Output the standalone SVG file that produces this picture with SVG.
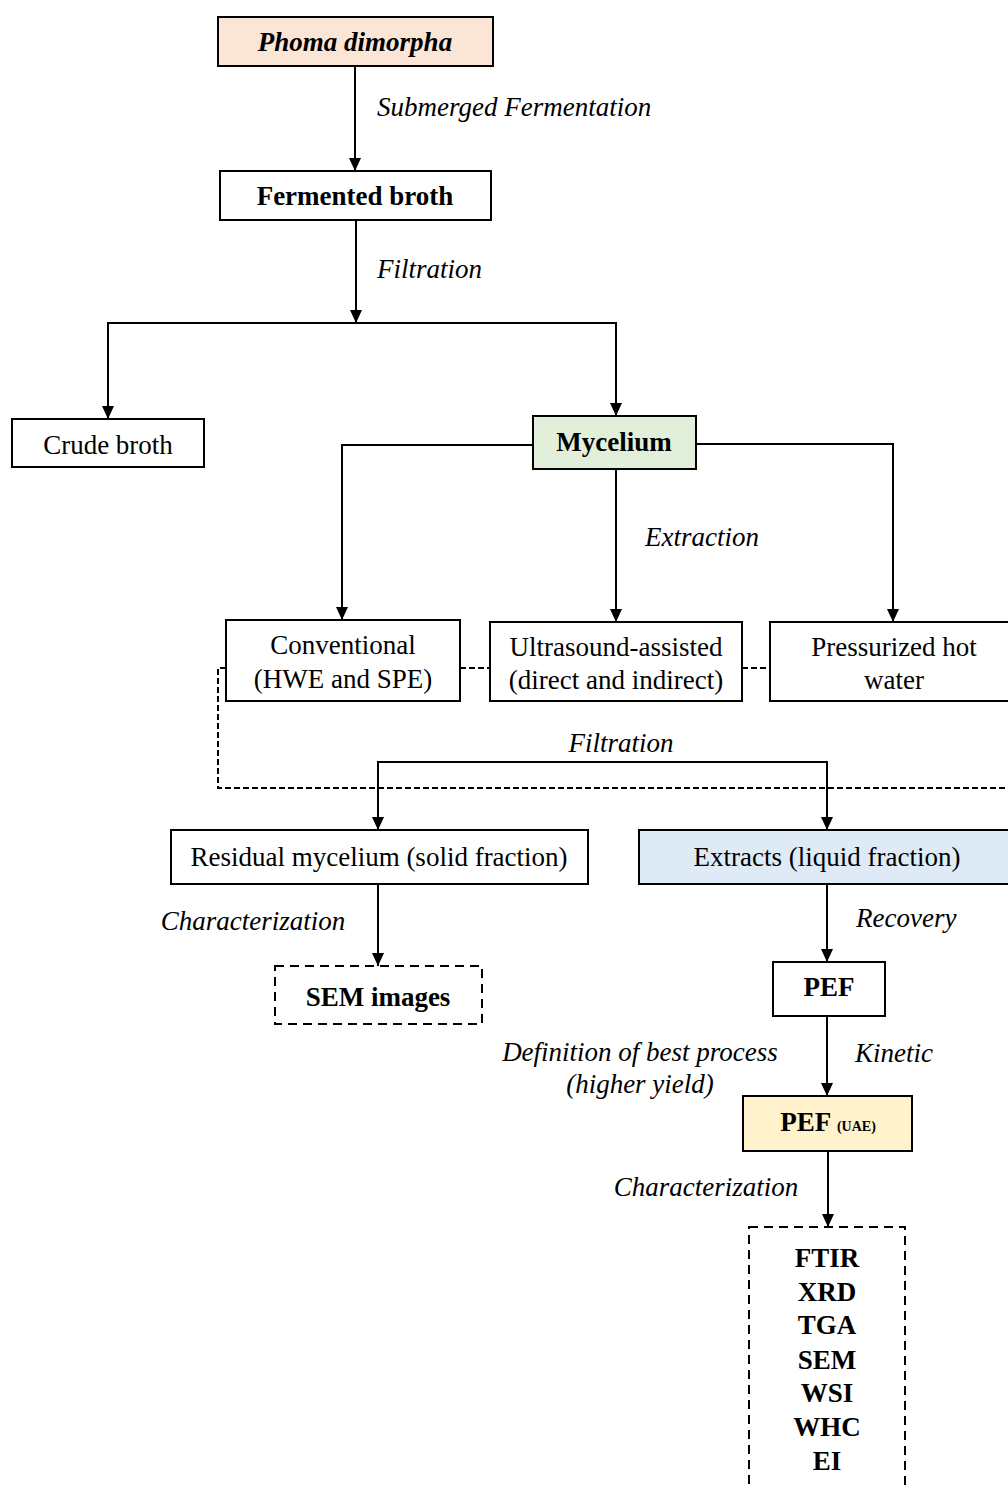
<svg xmlns="http://www.w3.org/2000/svg" width="1008" height="1486" viewBox="0 0 1008 1486">
<style>
text{font-family:"Liberation Serif","Times New Roman",serif;font-size:27px;fill:#000;text-anchor:middle}
.b{font-weight:bold}
.i{font-style:italic}
.l{text-anchor:start}
.box{stroke:#000;stroke-width:2;fill:#fff}
.dbox{stroke:#000;stroke-width:2;fill:#fff;stroke-dasharray:9 6}
.c{stroke:#000;stroke-width:2;fill:none}
.d{stroke:#000;stroke-width:2;fill:none;stroke-dasharray:6 3}
</style>
<defs>
<marker id="ah" markerUnits="userSpaceOnUse" markerWidth="14" markerHeight="12" refX="13" refY="6" orient="auto">
<path d="M0 0 L13 6 L0 12 z" fill="#000"/>
</marker>
</defs>
<rect width="1008" height="1486" fill="#fff"/>
<g id="connectors">
<path class="c" d="M355 66 V171" marker-end="url(#ah)"/>
<path class="c" d="M356 220 V323" marker-end="url(#ah)"/>
<path class="c" d="M356 323 H108 V419" marker-end="url(#ah)"/>
<path class="c" d="M356 323 H616 V416" marker-end="url(#ah)"/>
<path class="c" d="M533 445 H342 V620" marker-end="url(#ah)"/>
<path class="c" d="M616 469 V622" marker-end="url(#ah)"/>
<path class="c" d="M696 444 H893 V622" marker-end="url(#ah)"/>
<path class="d" d="M460 668 H490"/>
<path class="d" d="M742 668 H770"/>
<path class="d" d="M226 668 H218 V788 H1008"/>
<path class="c" d="M600 762 H378 V830" marker-end="url(#ah)"/>
<path class="c" d="M600 762 H827 V830" marker-end="url(#ah)"/>
<path class="c" d="M378 884 V966" marker-end="url(#ah)"/>
<path class="c" d="M827 884 V962" marker-end="url(#ah)"/>
<path class="c" d="M827 1016 V1096" marker-end="url(#ah)"/>
<path class="c" d="M828 1151 V1227" marker-end="url(#ah)"/>
<text class="i l" x="377" y="116">Submerged Fermentation</text>
<text class="i l" x="377" y="278">Filtration</text>
<text class="i l" x="645" y="546">Extraction</text>
<text class="i" x="621" y="752">Filtration</text>
<text class="i" x="253" y="930">Characterization</text>
<text class="i l" x="856" y="927">Recovery</text>
<text class="i l" x="855" y="1062">Kinetic</text>
<text class="i" x="640" y="1061">Definition of best process</text>
<text class="i" x="640" y="1093">(higher yield)</text>
<text class="i" x="706" y="1196">Characterization</text>
</g>
<g id="phoma">
<rect class="box" x="218" y="17" width="275" height="49" style="fill:#fbe5d6"/>
<text class="b i" x="355" y="51">Phoma dimorpha</text>
</g>
<g id="fermented">
<rect class="box" x="220" y="171" width="271" height="49"/>
<text class="b" x="355" y="205">Fermented broth</text>
</g>
<g id="crude">
<rect class="box" x="12" y="419" width="192" height="48"/>
<text x="108" y="454">Crude broth</text>
</g>
<g id="mycelium">
<rect class="box" x="533" y="416" width="163" height="53" style="fill:#e2efda"/>
<text class="b" x="614" y="451">Mycelium</text>
</g>
<g id="conventional">
<rect class="box" x="226" y="620" width="234" height="81"/>
<text x="343" y="654">Conventional</text>
<text x="343" y="688">(HWE and SPE)</text>
</g>
<g id="ultrasound">
<rect class="box" x="490" y="622" width="252" height="79"/>
<text x="616" y="656">Ultrasound-assisted</text>
<text x="616" y="689">(direct and indirect)</text>
</g>
<g id="pressurized">
<rect class="box" x="770" y="622" width="245" height="79"/>
<text x="894" y="656">Pressurized hot</text>
<text x="894" y="689">water</text>
</g>
<g id="residual">
<rect class="box" x="171" y="830" width="417" height="54"/>
<text x="379" y="866">Residual mycelium (solid fraction)</text>
</g>
<g id="extracts">
<rect class="box" x="639" y="830" width="380" height="54" style="fill:#deebf7"/>
<text x="827" y="866">Extracts (liquid fraction)</text>
</g>
<g id="sem">
<rect class="dbox" x="275" y="966" width="207" height="58"/>
<text class="b" x="378" y="1006">SEM images</text>
</g>
<g id="pef">
<rect class="box" x="773" y="962" width="112" height="54"/>
<text class="b" x="829" y="996">PEF</text>
</g>
<g id="pefuae">
<rect class="box" x="743" y="1096" width="169" height="55" style="fill:#fff2cc"/>
<text class="b" x="828" y="1131">PEF <tspan style="font-size:14px">(UAE)</tspan></text>
</g>
<g id="characterization">
<rect class="dbox" x="749" y="1227" width="156" height="280"/>
<text class="b" x="827" y="1267">FTIR</text>
<text class="b" x="827" y="1301">XRD</text>
<text class="b" x="827" y="1334">TGA</text>
<text class="b" x="827" y="1369">SEM</text>
<text class="b" x="827" y="1402">WSI</text>
<text class="b" x="827" y="1436">WHC</text>
<text class="b" x="827" y="1470">EI</text>
</g>
</svg>
